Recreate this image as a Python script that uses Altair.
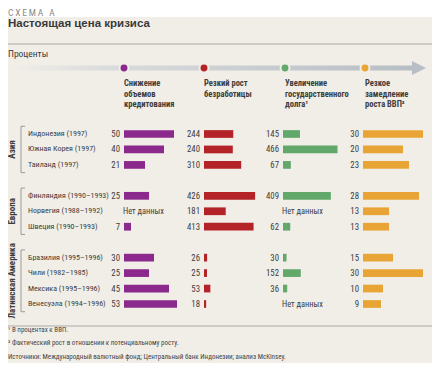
import altair as alt
import pandas as pd

# ---------------- data ----------------
countries = ["Индонезия (1997)", "Южная Корея (1997)", "Таиланд (1997)",
             "Финляндия (1990–1993)", "Норвегия (1988–1992)", "Швеция (1990–1993)",
             "Бразилия (1995–1996)", "Чили (1982–1985)", "Мексика (1995–1996)",
             "Венесуэла (1994–1996)"]
row_slot = [0, 1, 2, 4, 5, 6, 8, 9, 10, 11]
regions = ["Азия", "Европа", "Латинская Америка"]
region_first = [0, 4, 8]
region_last = [2, 6, 11]

credit = [50, 40, 21, 25, None, 7, 30, 25, 45, 53]
unemployment = [244, 240, 310, 426, 181, 413, 26, 25, 53, 18]
debt = [145, 466, 67, 409, None, 62, 30, 152, 36, None]
gdp = [30, 20, 23, 28, 13, 13, 15, 30, 10, 9]
series = [credit, unemployment, debt, gdp]

headers = ["Снижение\nобъемов\nкредитования",
           "Резкий рост\nбезработицы",
           "Увеличение\nгосударственного\nдолга¹",
           "Резкое\nзамедление\nроста ВВП²"]
footnotes = ["¹ В процентах к ВВП.",
             "² Фактический рост в отношении к потенциальному росту.",
             "Источники: Международный валютный фонд; Центральный банк Индонезии; анализ McKinsey."]
no_data = "Нет данных"

# ---------------- style / layout ----------------
colors = ["#8b2a8c", "#b42328", "#62a86b", "#e8a535"]
bar_start = [116, 196, 275, 355]
px_per_unit = [1.0, 0.12, 0.117, 2.0]
circle_x = [116, 196, 277, 357]
BG = "#f1eee8"
TXT = "#3d3d3d"
FONT = "Roboto Condensed"
W, H = 424, 355

yscale = alt.Scale(domain=[0, 11], range=[126, 296], zero=False, nice=False)


def const_text(text, x, y, size=9, weight="normal", font=FONT, color=TXT,
               align="left", baseline="middle", **kw):
    return alt.Chart(pd.DataFrame({"t": [text]})).mark_text(
        align=align, baseline=baseline, fontSize=size, fontWeight=weight,
        font=font, color=color, **kw
    ).encode(x=alt.value(x), y=alt.value(y), text="t:N")


layers = []

# white strip on top
layers.append(alt.Chart(pd.DataFrame({"a": [0]})).mark_rect(color="white").encode(
    x=alt.value(0), x2=alt.value(W), y=alt.value(0), y2=alt.value(9)))

layers.append(const_text("С\u2009Х\u2009Е\u2009М\u2009А\u2002\u2009А", 0, 0, size=9.5,
                         color="#8a8a8a", baseline="top"))
layers.append(const_text("Настоящая цена кризиса", 0, 16, size=11.5, weight="bold",
                         font="Liberation Sans, Arial, sans-serif", color="#3a3a3a"))

# horizontal separators
for yy in [36, 318]:
    layers.append(alt.Chart(pd.DataFrame({"a": [0]})).mark_rule(color="#a9a9a9", strokeWidth=1).encode(
        x=alt.value(0), x2=alt.value(W), y=alt.value(yy)))

layers.append(const_text("Проценты", 0, 46, size=9.5))

# arrow
grad = alt.LinearGradient(gradient="linear", x1=0, x2=1, y1=0, y2=0,
                          stops=[alt.GradientStop(color=BG, offset=0),
                                 alt.GradientStop(color="#d9dadb", offset=0.25),
                                 alt.GradientStop(color="#b7bec5", offset=1)])
layers.append(alt.Chart(pd.DataFrame({"a": [0]})).mark_rect(color=grad).encode(
    x=alt.value(6), x2=alt.value(405), y=alt.value(57.5), y2=alt.value(62.5)))
layers.append(alt.Chart(pd.DataFrame({"a": [0]})).mark_point(
    shape="M-1,-1L1,0L-1,1Z", size=200, filled=True, color="#b7bec5", opacity=1
).encode(x=alt.value(411), y=alt.value(60)))

# circles + headers
for j in range(4):
    layers.append(alt.Chart(pd.DataFrame({"a": [0]})).mark_point(
        shape="circle", size=80, filled=True, fill=colors[j], stroke=BG,
        strokeWidth=2, opacity=1).encode(x=alt.value(circle_x[j]), y=alt.value(60)))
    layers.append(const_text(headers[j], circle_x[j], 71, size=8.5, weight="bold",
                             baseline="top", lineHeight=10.5, lineBreak="\n"))

# data table
df = pd.DataFrame({"country": countries, "row": row_slot})
df["lo"] = df["row"] - 0.25
df["hi"] = df["row"] + 0.25

layers.append(alt.Chart(df).mark_text(align="left", baseline="middle", fontSize=8,
                                      font=FONT, color=TXT).encode(
    x=alt.value(20), y=alt.Y("row:Q", scale=yscale, axis=None), text="country:N"))

for j in range(4):
    d = df.copy()
    d["value"] = series[j]
    dmax = max(v for v in series[j] if v is not None)
    xs = alt.Scale(domain=[0, dmax], range=[bar_start[j], bar_start[j] + dmax * px_per_unit[j]],
                   zero=False, nice=False)
    have = d[d["value"].notna()].copy()
    have["base"] = 0
    have["label"] = have["value"].map(lambda v: f"{int(v)}")
    missing = d[d["value"].isna()].copy()
    missing["label"] = no_data

    layers.append(alt.Chart(have).mark_rect(color=colors[j]).encode(
        x=alt.X("base:Q", scale=xs, axis=None), x2="value:Q",
        y=alt.Y("lo:Q", scale=yscale, axis=None), y2="hi:Q"))
    layers.append(alt.Chart(have).mark_text(align="right", baseline="middle", fontSize=8.8,
                                            font=FONT, color=TXT).encode(
        x=alt.value(bar_start[j] - 4), y=alt.Y("row:Q", scale=yscale, axis=None), text="label:N"))
    if len(missing):
        layers.append(alt.Chart(missing).mark_text(align="left", baseline="middle", fontSize=8.4,
                                                   font=FONT, color=TXT).encode(
            x=alt.value(bar_start[j] - 1), y=alt.Y("row:Q", scale=yscale, axis=None),
            text="label:N"))

# region brackets
rg = pd.DataFrame({"region": regions, "first": region_first, "last": region_last})
rg["top"] = rg["first"] - 0.5
rg["bot"] = rg["last"] + 0.5
rg["mid"] = (rg["first"] + rg["last"]) / 2
layers.append(alt.Chart(rg).mark_rule(color="#9a9a9a", strokeWidth=1).encode(
    x=alt.value(13), y=alt.Y("top:Q", scale=yscale, axis=None), y2="bot:Q"))
for fld in ["top", "bot"]:
    layers.append(alt.Chart(rg).mark_rule(color="#9a9a9a", strokeWidth=1).encode(
        x=alt.value(13), x2=alt.value(17), y=alt.Y(f"{fld}:Q", scale=yscale, axis=None)))
layers.append(alt.Chart(rg).mark_text(angle=270, align="center", baseline="middle",
                                      fontSize=9, fontWeight="bold", font=FONT, color=TXT).encode(
    x=alt.value(4), y=alt.Y("mid:Q", scale=yscale, axis=None), text="region:N"))

# footnotes
for txt, yy in zip(footnotes, [322, 335, 349]):
    layers.append(const_text(txt, 0, yy, size=7, color="#444444"))

chart = alt.layer(*layers).resolve_scale(x="independent").properties(
    width=W, height=H, padding=0, background=BG,
    autosize=alt.AutoSizeParams(type="none")
).configure_view(stroke=None)

chart.save("out.html", embed_options={"renderer": "svg", "actions": False})
